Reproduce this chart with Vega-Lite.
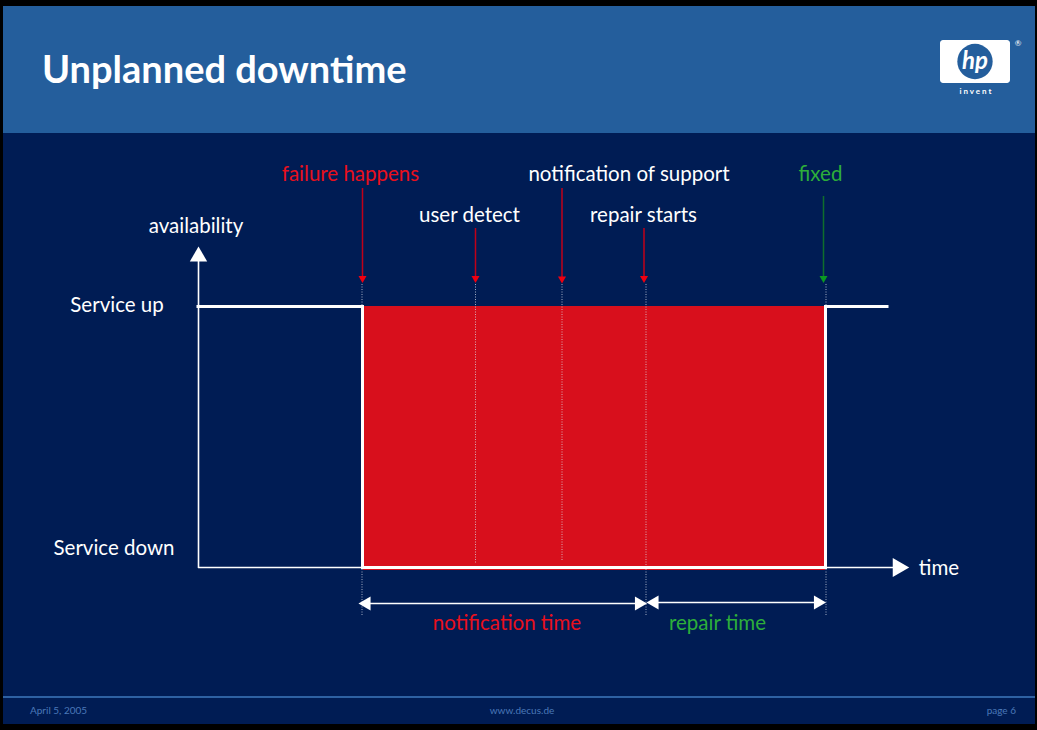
{
  "$schema": "https://vega.github.io/schema/vega-lite/v6.json",
  "width": 1037,
  "height": 730,
  "autosize": {"type": "fit", "contains": "padding"},
  "padding": 0,
  "background": "#000000",
  "config": {"view": {"stroke": null}},
  "datasets": {
    "body": [{"x": 3, "x2": 1035, "y": 6, "y2": 724}],
    "header": [{"x": 3, "x2": 1035, "y": 6, "y2": 133}],
    "footerline": [{"x": 3, "x2": 1035, "y": 697, "y2": 697}],
    "downtime": [{"x": 363, "x2": 825, "y": 306, "y2": 570}],
    "dotted": [
      {"x": 362, "x2": 362, "y": 284, "y2": 306},
      {"x": 362, "x2": 362, "y": 569, "y2": 616},
      {"x": 475.5, "x2": 475.5, "y": 284, "y2": 564},
      {"x": 562, "x2": 562, "y": 284, "y2": 560},
      {"x": 646, "x2": 646, "y": 284, "y2": 616},
      {"x": 826, "x2": 826, "y": 284, "y2": 306},
      {"x": 826, "x2": 826, "y": 569, "y2": 616}
    ],
    "availability": [
      {"step": 1, "x": 198, "y": 306.5},
      {"step": 2, "x": 362.5, "y": 306.5},
      {"step": 3, "x": 362.5, "y": 567.5},
      {"step": 4, "x": 825.5, "y": 567.5},
      {"step": 5, "x": 825.5, "y": 306.5},
      {"step": 6, "x": 887, "y": 306.5}
    ],
    "axes": [
      {"x": 198.5, "x2": 198.5, "y": 256, "y2": 568},
      {"x": 198, "x2": 899, "y": 567.5, "y2": 567.5}
    ],
    "spans": [
      {"x": 364, "x2": 643, "y": 603.5, "y2": 603.5},
      {"x": 650, "x2": 822, "y": 602.5, "y2": 602.5}
    ],
    "whiteheads": [
      {"dir": "up", "x": 198.5, "y": 254, "sz": 50},
      {"dir": "right", "x": 901, "y": 567.5, "sz": 60},
      {"dir": "left", "x": 364.5, "y": 603.5, "sz": 32},
      {"dir": "right", "x": 641, "y": 603.5, "sz": 32},
      {"dir": "left", "x": 652.5, "y": 602.5, "sz": 32},
      {"dir": "right", "x": 820, "y": 602.5, "sz": 32}
    ],
    "redshafts": [
      {"x": 362.5, "x2": 362.5, "y": 188, "y2": 278},
      {"x": 475.5, "x2": 475.5, "y": 228, "y2": 278},
      {"x": 562, "x2": 562, "y": 188, "y2": 278},
      {"x": 644, "x2": 644, "y": 228, "y2": 278}
    ],
    "redheads": [
      {"dir": "down", "x": 362.5, "y": 279.5},
      {"dir": "down", "x": 475.5, "y": 279.5},
      {"dir": "down", "x": 562, "y": 280},
      {"dir": "down", "x": 644, "y": 279.5}
    ],
    "greenshafts": [{"x": 823.5, "x2": 823.5, "y": 196, "y2": 278}],
    "greenheads": [{"dir": "down", "x": 823.5, "y": 279.5}],
    "whitelabels": [
      {"text": "notification of support", "x": 629, "y": 175},
      {"text": "user detect", "x": 469.5, "y": 216},
      {"text": "repair starts", "x": 643.5, "y": 216},
      {"text": "availability", "x": 196, "y": 227},
      {"text": "Service up", "x": 117, "y": 306},
      {"text": "Service down", "x": 114, "y": 549},
      {"text": "time", "x": 939, "y": 569}
    ],
    "redlabels": [
      {"text": "failure happens", "x": 350.5, "y": 175},
      {"text": "notification time", "x": 507, "y": 624}
    ],
    "greenlabels": [
      {"text": "fixed", "x": 820.5, "y": 175},
      {"text": "repair time", "x": 717.5, "y": 624}
    ],
    "title": [{"text": "Unplanned downtime", "x": 42, "y": 83}],
    "footerleft": [{"text": "April 5, 2005", "x": 30, "y": 711}],
    "footercenter": [{"text": "www.decus.de", "x": 522, "y": 711}],
    "footerright": [{"text": "page 6", "x": 1016, "y": 711}],
    "logobox": [{"x": 940, "x2": 1010, "y": 40, "y2": 83}],
    "logocircle": [{"x": 975, "y": 61.5}],
    "logotext": [{"text": "hp", "x": 975, "y": 62}],
    "invent": [{"text": "i n v e n t", "x": 975.5, "y": 92}],
    "reg": [{"text": "®", "x": 1018, "y": 44}]
  },
  "encoding": {
    "x": {"field": "x", "type": "quantitative", "scale": {"domain": [0, 1037], "nice": false, "zero": false}, "axis": null},
    "y": {"field": "y", "type": "quantitative", "scale": {"domain": [0, 730], "nice": false, "zero": false, "reverse": true}, "axis": null}
  },
  "layer": [
    {"data": {"name": "body"}, "mark": {"type": "rect", "color": "#001C54"}, "encoding": {"x2": {"field": "x2"}, "y2": {"field": "y2"}}},
    {"data": {"name": "header"}, "mark": {"type": "rect", "color": "#245E9C"}, "encoding": {"x2": {"field": "x2"}, "y2": {"field": "y2"}}},
    {"data": {"name": "footerline"}, "mark": {"type": "rule", "color": "#3E78BC", "strokeWidth": 1.5}, "encoding": {"x2": {"field": "x2"}, "y2": {"field": "y2"}}},
    {"data": {"name": "downtime"}, "mark": {"type": "rect", "color": "#D80F1C"}, "encoding": {"x2": {"field": "x2"}, "y2": {"field": "y2"}}},
    {"data": {"name": "dotted"}, "mark": {"type": "rule", "color": "#D8DDE8", "strokeWidth": 1, "strokeDash": [1, 1.5], "opacity": 0.75}, "encoding": {"x2": {"field": "x2"}, "y2": {"field": "y2"}}},
    {"data": {"name": "axes"}, "mark": {"type": "rule", "color": "#FFFFFF", "strokeWidth": 1.6}, "encoding": {"x2": {"field": "x2"}, "y2": {"field": "y2"}}},
    {"data": {"name": "spans"}, "mark": {"type": "rule", "color": "#FFFFFF", "strokeWidth": 1.5}, "encoding": {"x2": {"field": "x2"}, "y2": {"field": "y2"}}},
    {"data": {"name": "availability"}, "mark": {"type": "line", "color": "#FFFFFF", "strokeWidth": 3, "strokeJoin": "miter", "strokeCap": "square"}, "encoding": {"order": {"field": "step", "type": "quantitative"}}},
    {"data": {"name": "whiteheads"}, "mark": {"type": "point", "filled": true, "color": "#FFFFFF", "opacity": 1},
      "encoding": {
        "shape": {"field": "dir", "type": "nominal", "scale": {"domain": ["up", "down", "left", "right"], "range": ["triangle-up", "triangle-down", "triangle-left", "triangle-right"]}, "legend": null},
        "size": {"field": "sz", "type": "quantitative", "scale": {"type": "identity"}, "legend": null}
      }},
    {"data": {"name": "redshafts"}, "mark": {"type": "rule", "color": "#C00018", "strokeWidth": 1.5}, "encoding": {"x2": {"field": "x2"}, "y2": {"field": "y2"}}},
    {"data": {"name": "redheads"}, "mark": {"type": "point", "filled": true, "color": "#F00010", "opacity": 1, "size": 65},
      "encoding": {"shape": {"field": "dir", "type": "nominal", "legend": null}}},
    {"data": {"name": "greenshafts"}, "mark": {"type": "rule", "color": "#0E6E2C", "strokeWidth": 1.5}, "encoding": {"x2": {"field": "x2"}, "y2": {"field": "y2"}}},
    {"data": {"name": "greenheads"}, "mark": {"type": "point", "filled": true, "color": "#0A9A22", "opacity": 1, "size": 65},
      "encoding": {"shape": {"field": "dir", "type": "nominal", "legend": null}}},
    {"data": {"name": "whitelabels"}, "mark": {"type": "text", "color": "#FFFFFF", "font": "Lato", "fontSize": 20.5, "align": "center", "baseline": "middle"}, "encoding": {"text": {"field": "text"}}},
    {"data": {"name": "redlabels"}, "mark": {"type": "text", "color": "#E8101C", "font": "Lato", "fontSize": 20.5, "align": "center", "baseline": "middle"}, "encoding": {"text": {"field": "text"}}},
    {"data": {"name": "greenlabels"}, "mark": {"type": "text", "color": "#2DAE3A", "font": "Lato", "fontSize": 20.5, "align": "center", "baseline": "middle"}, "encoding": {"text": {"field": "text"}}},
    {"data": {"name": "title"}, "mark": {"type": "text", "color": "#FFFFFF", "font": "Lato", "fontSize": 38, "fontWeight": "bold", "align": "left", "baseline": "alphabetic"}, "encoding": {"text": {"field": "text"}}},
    {"data": {"name": "footerleft"}, "mark": {"type": "text", "color": "#4A78B8", "font": "Lato", "fontSize": 10, "align": "left", "baseline": "middle"}, "encoding": {"text": {"field": "text"}}},
    {"data": {"name": "footercenter"}, "mark": {"type": "text", "color": "#4A78B8", "font": "Lato", "fontSize": 10, "align": "center", "baseline": "middle"}, "encoding": {"text": {"field": "text"}}},
    {"data": {"name": "footerright"}, "mark": {"type": "text", "color": "#4A78B8", "font": "Lato", "fontSize": 10, "align": "right", "baseline": "middle"}, "encoding": {"text": {"field": "text"}}},
    {"data": {"name": "logobox"}, "mark": {"type": "rect", "color": "#FFFFFF", "cornerRadius": 3}, "encoding": {"x2": {"field": "x2"}, "y2": {"field": "y2"}}},
    {"data": {"name": "logocircle"}, "mark": {"type": "point", "filled": true, "shape": "circle", "color": "#245E9C", "opacity": 1, "size": 1250}},
    {"data": {"name": "logotext"}, "mark": {"type": "text", "color": "#FFFFFF", "font": "Lato", "fontSize": 24, "fontWeight": "bold", "fontStyle": "italic", "align": "center", "baseline": "middle"}, "encoding": {"text": {"field": "text"}}},
    {"data": {"name": "invent"}, "mark": {"type": "text", "color": "#FFFFFF", "font": "Lato", "fontSize": 8, "fontWeight": "bold", "align": "center", "baseline": "middle"}, "encoding": {"text": {"field": "text"}}},
    {"data": {"name": "reg"}, "mark": {"type": "text", "color": "#FFFFFF", "font": "Lato", "fontSize": 8, "align": "center", "baseline": "middle"}, "encoding": {"text": {"field": "text"}}}
  ]
}
